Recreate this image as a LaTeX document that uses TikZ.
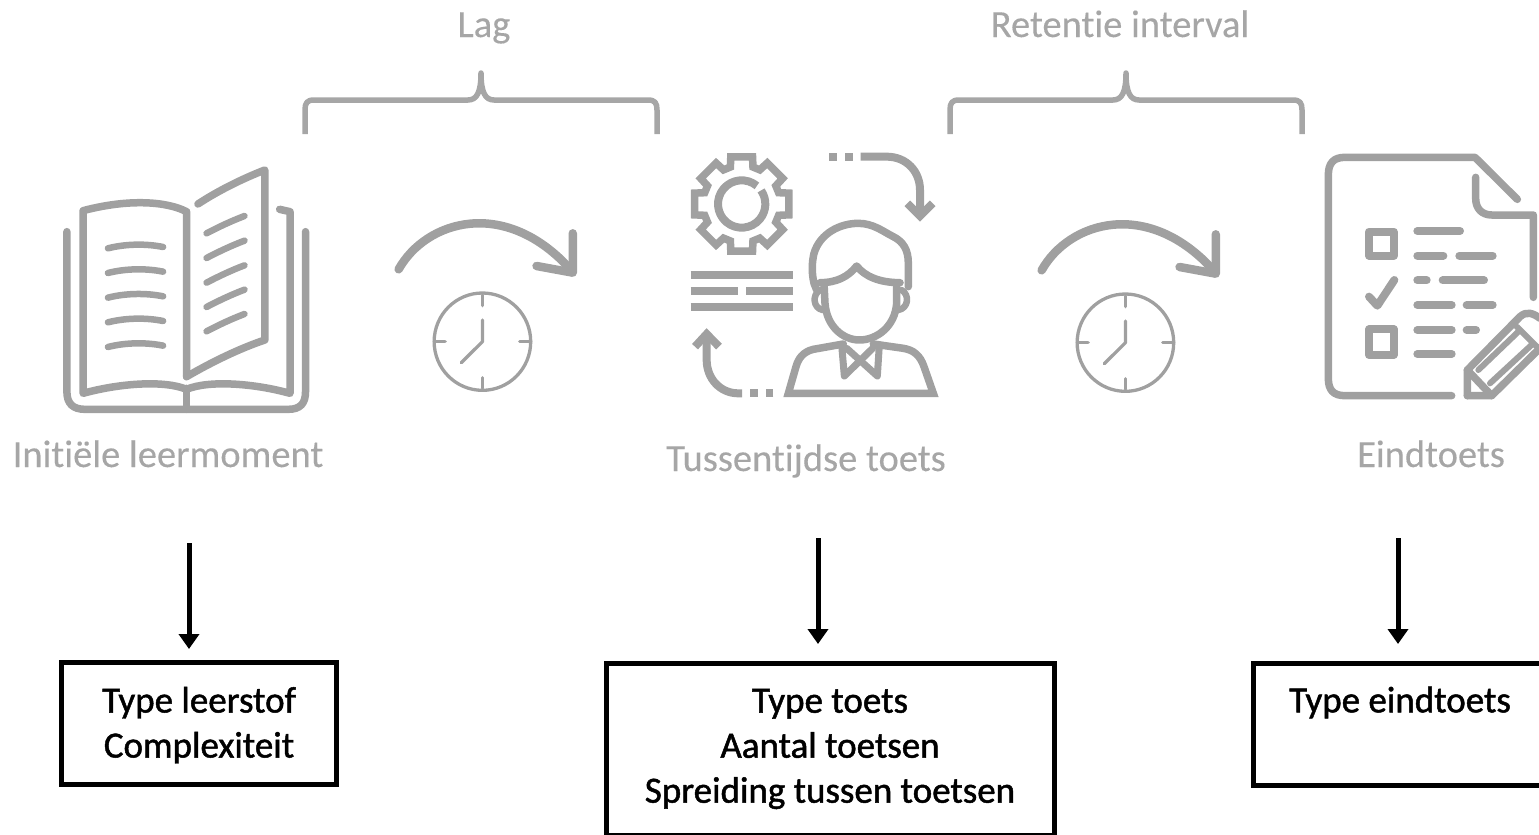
\documentclass[tikz,border=0pt]{standalone}
\usepackage{fontspec}
\setmainfont[Ligatures=NoCommon,FakeBold=0.25]{Carlito}
\usetikzlibrary{arrows.meta}
\definecolor{icon}{HTML}{A0A0A0}
\definecolor{soft}{HTML}{A6A6A6}
\newfontfamily\heavy[FakeBold=1.3,Ligatures=NoCommon]{Carlito}
\tikzset{
  x=1pt,y=-1pt,
  zoomed/.style={x=0.33333pt,y=-0.33333pt},
  zoomedb/.style={x=0.34483pt,y=-0.33333pt},
  ic/.style={draw=icon,line width=7.5pt,line join=round,line cap=round},
  icthin/.style={ic,line width=3.3pt},
  icbar/.style={draw=icon,line width=8pt,line cap=butt},
  brace/.style={draw=soft,line width=5.5pt,line join=round},
  lbl/.style={text=soft,font=\fontsize{38.5}{42}\selectfont,inner sep=0pt,anchor=base},
  box/.style={draw=black,line width=5pt,align=center,inner sep=0pt,
     font=\heavy\fontsize{37}{45}\selectfont},
  down/.style={draw=black,line width=5pt,-{Triangle[length=15pt,width=20pt]}}
}
\newcommand{\waitglyph}[1]{%
  \begin{scope}[shift={#1},zoomedb]
    \draw[ic,line width=8.5pt] (1040,388) .. controls (1120,240) and (1350,170) .. (1540,390);
    \draw[ic,line width=8.5pt] (1440,378) -- (1545,398) -- (1545,280);
    \draw[icthin] (1283,605) ellipse (140 and 146);
    \draw[icthin] (1283,465) -- (1283,497) (1283,745) -- (1283,713)
       (1143,605) -- (1175,605) (1423,605) -- (1391,605);
    \draw[icthin] (1283,540) -- (1283,605) -- (1222,668);
  \end{scope}}
\begin{document}
\begin{tikzpicture}
\useasboundingbox (0,0) rectangle (1539,835);
% labels
\node[lbl] (lag) at (484,37) {Lag};
\node[lbl] (ret) at (1120,37) {Retentie interval};
\node[lbl] (ini) at (168,467) {Initiële leermoment};
\node[lbl] (tus) at (806,471) {Tussentijdse toets};
\node[lbl] (ein) at (1431,467) {Eindtoets};
% braces
\draw[brace] (305,134) -- (305,110) .. controls (305,103) and (307,100) .. (314,100) -- (468,100)
   .. controls (477,100) and (481,92) .. (481,73) .. controls (481,92) and (485,100) .. (494,100)
   -- (648,100) .. controls (655,100) and (657,103) .. (657,110) -- (657,134);
\draw[brace] (950,134) -- (950,110) .. controls (950,103) and (952,100) .. (959,100) -- (1113,100)
   .. controls (1122,100) and (1126,92) .. (1126,73) .. controls (1126,92) and (1130,100) .. (1139,100)
   -- (1293,100) .. controls (1300,100) and (1302,103) .. (1302,110) -- (1302,134);
% book
\begin{scope}[shift={(40,140)},zoomedb]
  \draw[ic] (78,275) -- (78,755) .. controls (78,790) and (95,808) .. (130,808) -- (720,808)
     .. controls (755,808) and (770,790) .. (770,755) -- (770,275);
  \draw[ic] (425,745) -- (425,808);
  \draw[ic] (425,710) -- (425,215) .. controls (370,185) and (260,175) .. (125,212) -- (125,760)
     .. controls (230,730) and (360,720) .. (425,748) .. controls (490,720) and (620,730) .. (725,760)
     -- (725,215) -- (695,208);
  \draw[ic] (458,192) .. controls (520,150) and (590,115) .. (652,90) -- (652,600)
     .. controls (580,625) and (500,665) .. (425,710);
  \foreach \yy in {325,399,473,547,621}
    \draw[ic,line width=6.5pt] (197,\yy) .. controls (250,\yy-14) and (310,\yy-14) .. (357,\yy-4);
  \foreach \yy in {280,354,428,501,574}
    \draw[ic,line width=6.5pt] (483,\yy) .. controls (520,\yy-20) and (555,\yy-37) .. (593,\yy-52);
\end{scope}
\waitglyph{(40,140)}
\waitglyph{(683,141)}
% person
\begin{scope}[shift={(670,140)},zoomed]
  \begin{scope}[shift={(215,192)}]
    \draw[ic,line width=7.5pt,line join=miter,miter limit=4]
      (-13:145) \foreach \a in {0,45,...,315} { -- ({\a-13}:145) -- ({\a+13}:145) -- ({\a+17}:116) -- ({\a+28}:116) } -- cycle;
    \draw[ic,line width=8pt,line cap=butt] (-50:71) arc (-50:-395:71);
  \end{scope}
  \draw[icbar] (62,405) -- (370,405);
  \draw[icbar] (62,452) -- (205,452) (228,452) -- (370,452);
  \draw[icbar] (62,500) -- (370,500);
  \draw[icbar] (477,50) -- (500,50) (525,50) -- (548,50);
  \draw[icbar,line join=miter] (572,50) -- (650,50) .. controls (710,50) and (750,95) .. (750,150) -- (750,228);
  \draw[icbar,line join=miter] (712,190) -- (750,228) -- (788,190);
  \draw[icbar] (310,760) -- (288,760) (263,760) -- (240,760);
  \draw[icbar] (216,760) -- (205,760) .. controls (150,760) and (110,715) .. (110,660) -- (110,582);
  \draw[icbar,line join=miter] (75,620) -- (110,582) -- (147,620);
  \draw[ic] (440,450) -- (432,430) .. controls (425,400) and (425,370) .. (432,340)
     .. controls (450,280) and (510,250) .. (565,250) .. controls (610,250) and (640,275) .. (670,290)
     .. controls (700,305) and (715,330) .. (715,370) -- (715,440);
  \draw[ic] (450,428) .. controls (500,428) and (535,410) .. (560,378)
     .. controls (585,410) and (630,428) .. (690,428);
  \draw[ic] (462,430) -- (465,490) .. controls (470,560) and (520,600) .. (568,600)
     .. controls (620,600) and (675,560) .. (680,490) -- (680,430);
  \draw[ic,line width=6.5pt] (450,450) .. controls (425,465) and (430,505) .. (458,510);
  \draw[ic,line width=6.5pt] (695,450) .. controls (720,465) and (715,505) .. (685,510);
  \draw[ic,line join=miter] (520,612) -- (430,628) .. controls (400,635) and (385,655) .. (378,680)
     -- (355,760) -- (790,760) -- (762,680) .. controls (750,645) and (730,630) .. (700,625) -- (610,612);
  \draw[ic,line width=7pt] (515,615) -- (523,708) -- (608,625);
  \draw[ic,line width=7pt] (628,615) -- (622,708) -- (530,625);
\end{scope}
% document
\begin{scope}[shift={(1300,140)},zoomed]
  \draw[ic] (455,767) -- (135,767) .. controls (100,767) and (85,750) .. (85,715) -- (85,105)
     .. controls (85,70) and (100,52) .. (135,52) -- (525,52) -- (652,178);
  \draw[ic] (527,112) -- (527,175) .. controls (527,205) and (545,225) .. (575,225) -- (700,225) -- (700,472);
  \draw[ic,line width=8pt,line join=round] (207,275) rectangle (281,347);
  \draw[ic,line width=8pt,line join=round] (207,568) rectangle (281,645);
  \draw[ic,line width=8pt] (352,273) -- (480,273) (352,347) -- (430,347) (478,347) -- (578,347)
     (352,421) -- (380,421) (428,421) -- (552,421) (352,495) -- (455,495) (500,495) -- (578,495)
     (352,570) -- (455,570) (500,570) -- (528,570) (352,642) -- (455,642);
  \draw[ic,line width=8pt] (207,470) -- (232,497) -- (283,420);
  \draw[ic] (502,767) -- (502,690) -- (660,530) .. controls (680,512) and (700,520) .. (720,535);
  \draw[ic] (502,767) -- (575,767) -- (760,585);
  \draw[ic] (502,690) -- (575,767);
  \draw[ic,line width=6pt] (535,690) -- (655,575) (570,730) -- (700,610) (650,560) -- (740,650);
\end{scope}
% boxes
\node[box,minimum width=275pt,minimum height=122pt] (b1) at (199,723) {\rule{0pt}{30pt}Type leerstof\\Complexiteit};
\node[box,minimum width=448pt,minimum height=172pt] (b2) at (830,749) {Type toets\\Aantal toetsen\\Spreiding tussen toetsen};
\node[box,minimum width=294pt,minimum height=122pt] (b3) at (1400,724) {Type eindtoets\\[4pt]\mbox{}};
% arrows
\coordinate (s1) at (189,543); \coordinate (e1) at (189,649);
\coordinate (s2) at (818,538); \coordinate (e2) at (818,644);
\coordinate (s3) at (1398,538); \coordinate (e3) at (1398,644);
\draw[down] (s1) -- (e1);
\draw[down] (s2) -- (e2);
\draw[down] (s3) -- (e3);
\end{tikzpicture}
\end{document}
